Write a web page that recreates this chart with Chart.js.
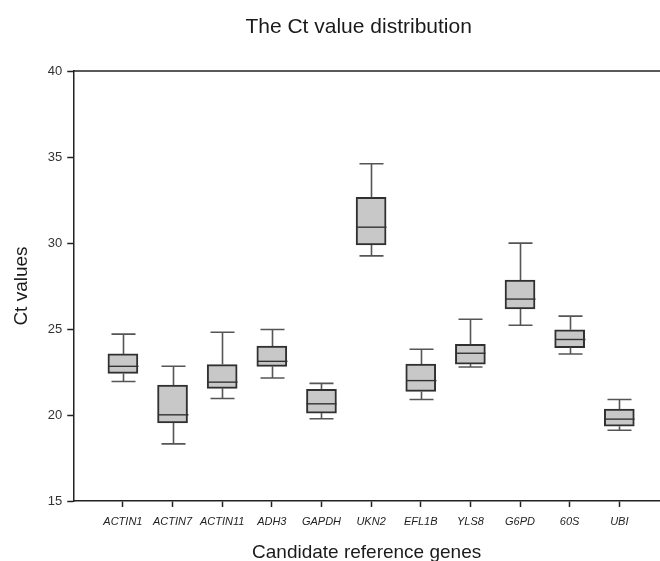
<!DOCTYPE html>
<html>
<head>
<meta charset="utf-8">
<script src="https://cdn.jsdelivr.net/npm/chart.js@4.4.1/dist/chart.umd.min.js"></script>
<style>
  html, body { margin: 0; padding: 0; background: #fff; }
  #wrap { width: 660px; height: 561px; }
</style>
</head>
<body>
<div id="wrap"><canvas id="box" width="660" height="561"></canvas></div>
<script>
const genes = ['ACTIN1','ACTIN7','ACTIN11','ADH3','GAPDH','UKN2','EFL1B','YLS8','G6PD','60S','UBI']
const lowWhisker = [21.95, 18.32, 20.96, 22.15, 19.78, 29.25, 20.9, 22.79, 25.22, 23.55, 19.11]
const q1 = [22.42, 19.54, 21.55, 22.83, 20.11, 29.89, 21.37, 22.96, 26.17, 23.92, 19.35]
const median = [22.83, 20.01, 21.91, 23.12, 20.65, 30.92, 22.0, 23.59, 26.74, 24.39, 19.76]
const q3 = [23.55, 21.74, 22.93, 24.01, 21.49, 32.65, 22.96, 24.11, 27.85, 24.95, 20.34]
const highWhisker = [24.7, 22.83, 24.81, 24.97, 21.84, 34.61, 23.82, 25.57, 29.99, 25.75, 20.9]
const yTicks = [15, 20, 25, 30, 35, 40]
const chartTitle = 'The Ct value distribution'

const boxWidth = 30
const capWidth = 24

// whiskers, caps, medians, the top frame line and the title
const boxExtras = {
    id: 'boxExtras',
    afterDatasetsDraw(chart) {
        const ctx = chart.ctx
        const xs = chart.scales.x
        const ys = chart.scales.y
        const area = chart.chartArea
        ctx.save()
        ctx.lineCap = 'butt'
        genes.forEach((g, i) => {
            const px = Math.round(xs.getPixelForValue(i)) + 0.5
            ctx.strokeStyle = '#555'
            ctx.lineWidth = 1.6
            ctx.beginPath()
            ctx.moveTo(px, ys.getPixelForValue(q3[i]))
            ctx.lineTo(px, ys.getPixelForValue(highWhisker[i]))
            ctx.moveTo(px, ys.getPixelForValue(q1[i]))
            ctx.lineTo(px, ys.getPixelForValue(lowWhisker[i]))
            ctx.moveTo(px - capWidth / 2, ys.getPixelForValue(highWhisker[i]))
            ctx.lineTo(px + capWidth / 2, ys.getPixelForValue(highWhisker[i]))
            ctx.moveTo(px - capWidth / 2, ys.getPixelForValue(lowWhisker[i]))
            ctx.lineTo(px + capWidth / 2, ys.getPixelForValue(lowWhisker[i]))
            ctx.stroke()
            ctx.strokeStyle = '#333'
            ctx.lineWidth = 1.4
            ctx.beginPath()
            ctx.moveTo(px - boxWidth / 2, ys.getPixelForValue(median[i]))
            ctx.lineTo(px + boxWidth / 2, ys.getPixelForValue(median[i]))
            ctx.stroke()
        })
        ctx.strokeStyle = '#222'
        ctx.lineWidth = 1.5
        ctx.beginPath()
        ctx.moveTo(area.left, area.top)
        ctx.lineTo(area.right, area.top)
        ctx.stroke()

        // title sits a little left of the plot centre, like the source
        ctx.fillStyle = '#1a1a1a'
        ctx.font = '21px "Liberation Sans"'
        ctx.textAlign = 'center'
        ctx.textBaseline = 'alphabetic'
        ctx.fillText(chartTitle, (area.left + area.right) / 2 - 8, 33)
        ctx.restore()
    }
}

new Chart(document.getElementById('box'), {
    type: 'bar',
    data: {
        datasets: [{
            data: genes.map((g, i) => ({ x: i, y: [q1[i], q3[i]] })),
            backgroundColor: '#c8c8c9',
            borderColor: '#303030',
            borderWidth: 2,
            borderSkipped: false,
            barThickness: boxWidth
        }]
    },
    options: {
        responsive: false,
        animation: false,
        layout: { padding: { left: 6, right: 0, top: 71, bottom: -3 } },
        plugins: {
            legend: { display: false },
            tooltip: { enabled: false },
            title: { display: false }
        },
        scales: {
            x: {
                type: 'linear',
                offset: false,
                min: -1,
                max: 10.82,
                afterBuildTicks: axis => { axis.ticks = genes.map((g, i) => ({ value: i })) },
                grid: { display: true, offset: false, drawOnChartArea: false, drawTicks: true, tickLength: 6, tickColor: '#222', tickWidth: 1.5 },
                border: { display: true, color: '#222', width: 1.5 },
                ticks: {
                    autoSkip: false,
                    maxRotation: 0,
                    color: '#222',
                    padding: 8,
                    font: { family: 'Liberation Sans', size: 11, style: 'italic' },
                    callback: v => genes[v] ?? ''
                },
                title: {
                    display: true,
                    text: 'Candidate reference genes',
                    color: '#1a1a1a',
                    font: { family: 'Liberation Sans', size: 19 },
                    padding: { top: 5, bottom: 0 }
                }
            },
            y: {
                min: 15,
                max: 40,
                afterBuildTicks: axis => { axis.ticks = yTicks.map(v => ({ value: v })) },
                grid: { display: true, drawOnChartArea: false, drawTicks: true, tickLength: 6, tickColor: '#222', tickWidth: 1.5 },
                border: { display: true, color: '#222', width: 1.5 },
                ticks: {
                    color: '#333',
                    padding: 5,
                    font: { family: 'Liberation Sans', size: 13 }
                },
                title: {
                    display: true,
                    text: 'Ct values',
                    color: '#1a1a1a',
                    font: { family: 'Liberation Sans', size: 19 },
                    padding: { top: 4, bottom: 10 }
                }
            }
        }
    },
    plugins: [boxExtras]
});
</script>
</body>
</html>
